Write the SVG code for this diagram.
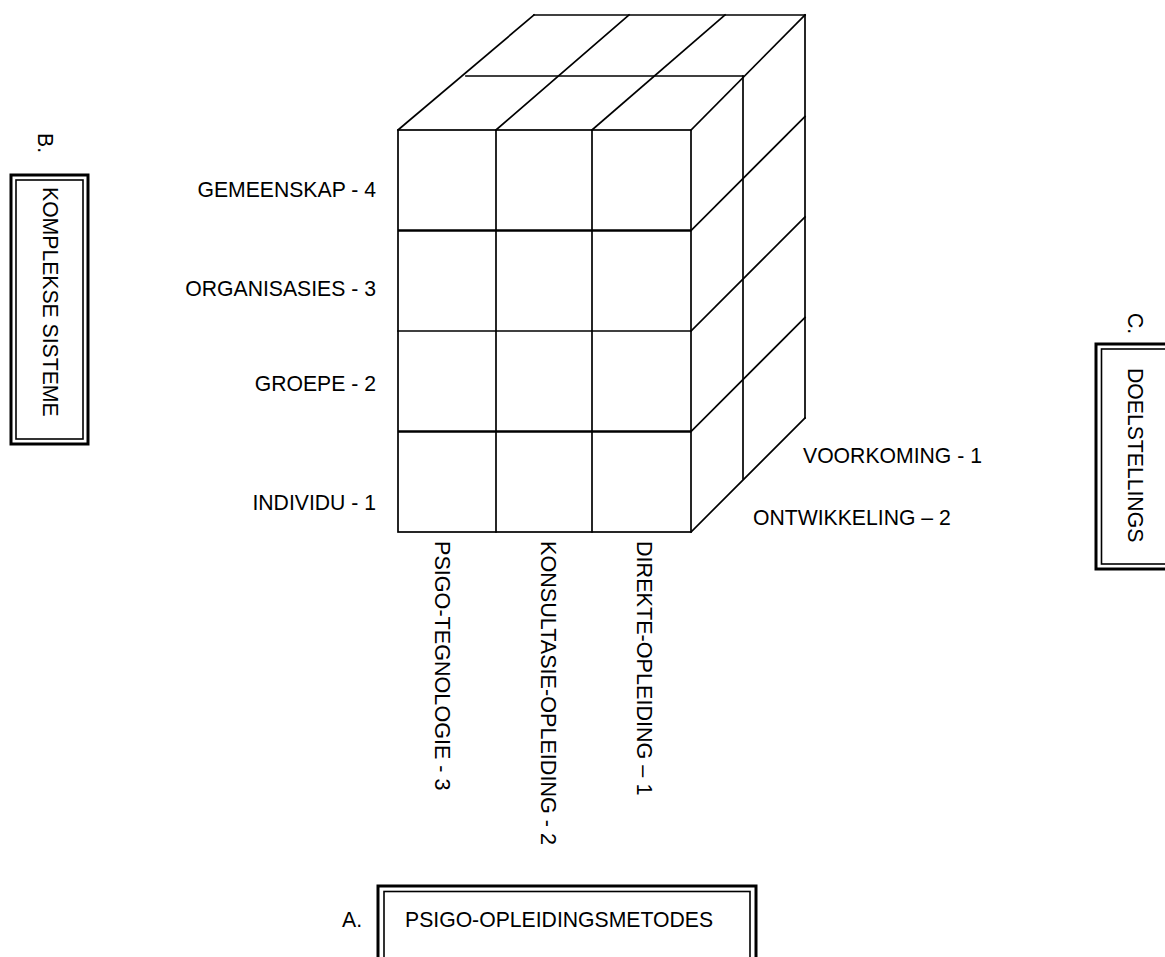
<svg xmlns="http://www.w3.org/2000/svg" width="1165" height="957" viewBox="0 0 1165 957">
  <style>
    .edge { stroke: #000; stroke-width: 1.7; fill: none; stroke-linecap: square; }
    .edge-bold { stroke: #000; stroke-width: 2.7; fill: none; }
    .frame-outer { stroke: #000; stroke-width: 3; fill: #fff; }
    .frame-inner { stroke: #000; stroke-width: 1.6; fill: none; }
    text { font-family: "Liberation Sans", Arial, sans-serif; font-size: 21.2px; fill: #000; }
    .vert { font-size: 21.6px; }
  </style>
  <rect x="0" y="0" width="1165" height="957" fill="#fff"/>

  <!-- cube: front face, top face and right face -->
  <g id="cube">
    <!-- front face grid -->
    <g id="front-face">
      <rect class="edge" x="398" y="130" width="293" height="402"/>
      <line class="edge" x1="496" y1="130" x2="496" y2="532"/>
      <line class="edge" x1="592" y1="130" x2="592" y2="532"/>
      <line class="edge-bold" x1="398" y1="230.5" x2="691" y2="230.5"/>
      <line class="edge" x1="398" y1="331" x2="691" y2="331"/>
      <line class="edge-bold" x1="398" y1="431.5" x2="691" y2="431.5"/>
    </g>
    <!-- top face -->
    <g id="top-face">
      <line class="edge" x1="534" y1="15" x2="805" y2="15"/>
      <line class="edge" x1="466" y1="76" x2="743" y2="76"/>
      <line class="edge" x1="398" y1="130" x2="534" y2="15"/>
      <line class="edge" x1="496" y1="130" x2="629" y2="15"/>
      <line class="edge" x1="592" y1="130" x2="725" y2="15"/>
      <line class="edge" x1="691" y1="130" x2="805" y2="15"/>
    </g>
    <!-- right face -->
    <g id="right-face">
      <line class="edge" x1="743" y1="76" x2="743" y2="479"/>
      <line class="edge" x1="805" y1="15" x2="805" y2="418"/>
      <line class="edge" x1="691" y1="230.5" x2="805" y2="116.5"/>
      <line class="edge" x1="691" y1="331" x2="805" y2="217"/>
      <line class="edge" x1="691" y1="431.5" x2="805" y2="317.5"/>
      <line class="edge" x1="691" y1="532" x2="805" y2="418"/>
    </g>
  </g>

  <!-- level labels (B axis) -->
  <g id="levels" text-anchor="end">
    <text x="376" y="197">GEMEENSKAP - 4</text>
    <text x="376" y="296">ORGANISASIES - 3</text>
    <text x="376" y="391">GROEPE - 2</text>
    <text x="376" y="510">INDIVIDU - 1</text>
  </g>

  <!-- goal labels (C axis) -->
  <g id="goals">
    <text x="803" y="463">VOORKOMING - 1</text>
    <text x="753" y="525">ONTWIKKELING – 2</text>
  </g>

  <!-- method labels (A axis), vertical -->
  <g id="methods" class="vert">
    <text class="vert" transform="translate(435,541) rotate(90)">PSIGO-TEGNOLOGIE - 3</text>
    <text class="vert" transform="translate(541,541) rotate(90)">KONSULTASIE-OPLEIDING - 2</text>
    <text class="vert" transform="translate(637,541) rotate(90)">DIREKTE-OPLEIDING – 1</text>
  </g>

  <!-- axis title B -->
  <g id="axis-b">
    <text transform="translate(38,133) rotate(90)">B.</text>
    <rect class="frame-outer" x="11" y="175" width="77" height="269"/>
    <rect class="frame-inner" x="16" y="180" width="67" height="259"/>
    <text transform="translate(43,187) rotate(90)">KOMPLEKSE SISTEME</text>
  </g>

  <!-- axis title C -->
  <g id="axis-c">
    <text transform="translate(1128,313) rotate(90)">C.</text>
    <rect class="frame-outer" x="1096" y="344" width="90" height="225"/>
    <rect class="frame-inner" x="1101.5" y="349" width="80" height="215"/>
    <text transform="translate(1128,368) rotate(90)">DOELSTELLINGS</text>
  </g>

  <!-- axis title A -->
  <g id="axis-a">
    <text x="342" y="927">A.</text>
    <rect class="frame-outer" x="378" y="886" width="378" height="90"/>
    <rect class="frame-inner" x="384" y="891.5" width="366" height="80"/>
    <text x="405" y="927">PSIGO-OPLEIDINGSMETODES</text>
  </g>
</svg>
